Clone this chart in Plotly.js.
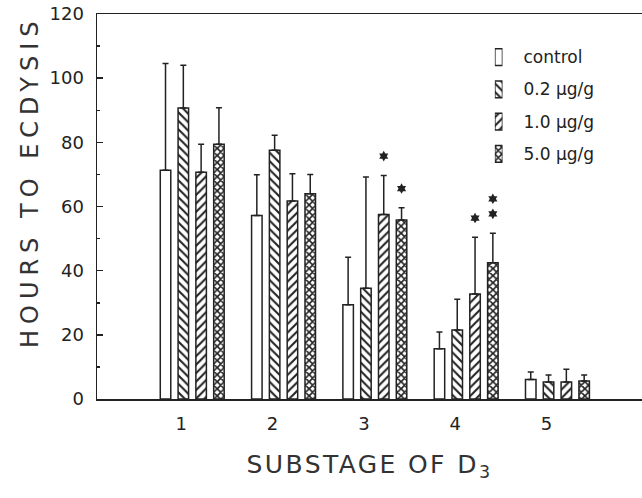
<!DOCTYPE html>
<html>
<head>
<meta charset="utf-8">
<script src="https://cdn.plot.ly/plotly-3.0.1.min.js"></script>
<style>html,body{margin:0;padding:0;background:#fff;}#chart{width:642px;height:498px;}</style>
</head>
<body>
<div id="chart"></div>
<script>
// ---- data ----
const substages = [1, 2, 3, 4, 5];
const tickLabels = ['1', '2', '3', '4', '5'];
const seriesNames = ['control', '0.2 μg/g', '1.0 μg/g', '5.0 μg/g'];

const controlMean = [71.3, 57.2, 29.4, 15.7, 6.1];
const controlErr  = [33.3, 12.7, 14.8, 5.2, 2.3];
const dose02Mean  = [90.7, 77.5, 34.5, 21.5, 5.3];
const dose02Err   = [13.3, 4.7, 34.7, 9.6, 2.2];
const dose10Mean  = [70.7, 61.7, 57.5, 32.7, 5.3];
const dose10Err   = [8.7, 8.5, 12.2, 17.7, 4.0];
const dose50Mean  = [79.4, 64.0, 55.8, 42.5, 5.6];
const dose50Err   = [11.4, 6.0, 3.8, 9.2, 1.9];

// number of significance asterisks above each bar
const controlStars = [0, 0, 0, 0, 0];
const dose02Stars  = [0, 0, 0, 0, 0];
const dose10Stars  = [0, 0, 1, 1, 0];
const dose50Stars  = [0, 0, 1, 2, 0];

// ---- build ----
const means = [controlMean, dose02Mean, dose10Mean, dose50Mean];
const errs = [controlErr, dose02Err, dose10Err, dose50Err];
const stars = [controlStars, dose02Stars, dose10Stars, dose50Stars];
const patterns = [
  {shape: '', fgcolor: '#222', bgcolor: '#fff'},
  {shape: '\\', fgcolor: '#222', bgcolor: '#fff', size: 6, solidity: 0.35},
  {shape: '/', fgcolor: '#222', bgcolor: '#fff', size: 6, solidity: 0.35},
  {shape: 'x', fgcolor: '#222', bgcolor: '#fff', size: 5, solidity: 0.55}
];
const bargap = 0.22;
const slot = (1 - bargap) / seriesNames.length;

const traces = [];
seriesNames.forEach((name, i) => {
  traces.push({
    type: 'bar', name: name, x: substages, y: means[i], showlegend: false,
    marker: {color: '#fff', line: {color: '#222', width: 1.5}, pattern: patterns[i]},
    error_y: {type: 'data', array: errs[i], arrayminus: errs[i].map(() => 0), symmetric: false,
              color: '#222', thickness: 1.5, width: 3}
  });
});

// key (legend): one tall narrow patch per series, labelled by the key axis
seriesNames.forEach((name, i) => {
  traces.push({
    type: 'bar', orientation: 'h', name: name, x: [1], y: [name], width: 0.52,
    xaxis: 'x2', yaxis: 'y2', offsetgroup: 'key', showlegend: false, hoverinfo: 'skip',
    marker: {color: '#fff', line: {color: '#222', width: 1.5}, pattern: patterns[i]}
  });
});

// asterisks
const sx = [], sy = [];
stars.forEach((arr, i) => {
  arr.forEach((n, j) => {
    for (let k = 0; k < n; k++) {
      sx.push(substages[j] + (i - (seriesNames.length - 1) / 2) * slot);
      sy.push(means[i][j] + errs[i][j] + 6 + 4.7 * k);
    }
  });
});
traces.push({
  type: 'scatter', mode: 'markers', x: sx, y: sy, showlegend: false, hoverinfo: 'skip',
  marker: {symbol: 'hexagram', size: 8, color: '#222'}
});

const layout = {
  width: 642, height: 498,
  margin: {l: 97, r: 0, t: 14, b: 99, autoexpand: false},
  paper_bgcolor: '#fff', plot_bgcolor: 'rgba(0,0,0,0)',
  barmode: 'group', bargap: bargap, bargroupgap: 0.41,
  font: {family: 'DejaVu Sans', color: '#222'},
  showlegend: false,
  xaxis: {
    range: [-0.043, 5.926], showline: true, mirror: true, linecolor: '#222', linewidth: 1.5,
    showgrid: false, zeroline: false, ticks: '',
    tickvals: substages.map(v => v - 0.12), ticktext: tickLabels,
    tickfont: {family: 'DejaVu Sans', size: 18, color: '#222'}, ticklabelstandoff: 8,
    title: {text: 'SUBSTAGE OF D<sub>3</sub>', font: {family: 'DejaVu Sans', size: 25, color: '#333'}, standoff: 22}
  },
  yaxis: {
    range: [0, 120], showline: true, linecolor: '#222', linewidth: 1.5,
    showgrid: false, zeroline: false, ticks: 'inside', ticklen: 6, tickwidth: 1.5, tickcolor: '#222',
    dtick: 20, minor: {dtick: 10, ticks: 'inside', ticklen: 3, tickwidth: 1.5, tickcolor: '#222'},
    tickfont: {family: 'DejaVu Sans', size: 18, color: '#222'}, ticklabelstandoff: 8
  },
  xaxis2: {domain: [0.730, 0.744], anchor: 'y2', range: [0, 1], visible: false, fixedrange: true},
  yaxis2: {
    domain: [0.595, 0.93], anchor: 'x2', side: 'right', type: 'category',
    categoryorder: 'array', categoryarray: seriesNames.slice().reverse(), range: [-0.5, seriesNames.length - 0.5],
    showline: false, showgrid: false, zeroline: false, ticks: '', ticklabelstandoff: 20,
    tickfont: {family: 'DejaVu Sans', size: 17, color: '#222'}
  },
  annotations: [{
    text: 'HOURS TO ECDYSIS', textangle: -90, showarrow: false,
    xref: 'paper', yref: 'paper', x: -0.123, y: 0.566, xanchor: 'center', yanchor: 'middle',
    font: {family: 'DejaVu Sans', size: 24, color: '#333'}
  }]
};

Plotly.newPlot('chart', traces, layout, {displayModeBar: false, staticPlot: true}).then(gd => {
  gd.querySelectorAll('.annotation-text').forEach(t => t.style.letterSpacing = '6px');
  gd.querySelectorAll('.xtitle').forEach(t => t.style.letterSpacing = '2.4px');
});
</script>
</body>
</html>
